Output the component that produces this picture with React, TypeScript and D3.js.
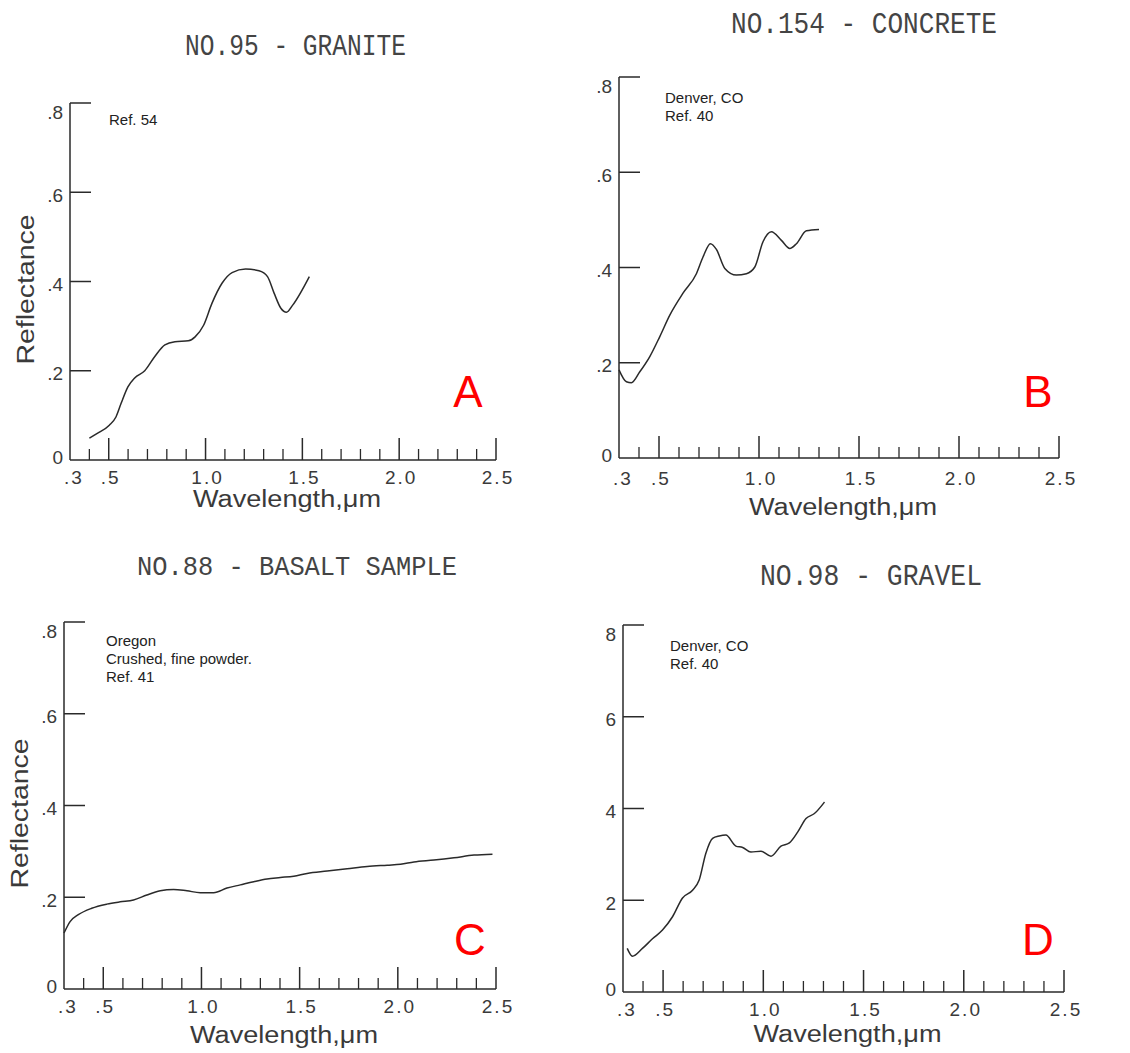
import React from 'react';
import * as d3 from 'd3';

// Spectral reflectance curves (wavelength in µm)
const graniteWave = [0.40, 0.443, 0.503, 0.538, 0.564, 0.599, 0.634, 0.686, 0.738, 0.79, 0.842, 0.911, 0.946, 0.99, 1.033, 1.085, 1.137, 1.207, 1.276, 1.32, 1.354, 1.389, 1.418, 1.45, 1.536];
const graniteRefl = [0.049, 0.06, 0.078, 0.097, 0.127, 0.164, 0.184, 0.2, 0.232, 0.258, 0.265, 0.267, 0.276, 0.302, 0.351, 0.396, 0.42, 0.428, 0.424, 0.411, 0.374, 0.34, 0.331, 0.347, 0.411];

const concreteWave = [0.30, 0.337, 0.362, 0.404, 0.454, 0.504, 0.554, 0.62, 0.687, 0.72, 0.757, 0.787, 0.829, 0.887, 0.937, 0.979, 1.02, 1.062, 1.112, 1.154, 1.187, 1.237, 1.30];
const concreteRefl = [0.185, 0.16, 0.158, 0.181, 0.213, 0.255, 0.3, 0.346, 0.387, 0.422, 0.45, 0.438, 0.398, 0.384, 0.387, 0.401, 0.454, 0.475, 0.457, 0.44, 0.45, 0.477, 0.48];

const basaltWave = [0.30, 0.331, 0.373, 0.441, 0.518, 0.586, 0.654, 0.722, 0.79, 0.858, 0.926, 0.994, 1.062, 1.13, 1.198, 1.266, 1.334, 1.402, 1.47, 1.538, 1.64, 1.742, 1.844, 1.946, 2.014, 2.082, 2.184, 2.286, 2.388, 2.482];
const basaltRefl = [0.122, 0.147, 0.162, 0.176, 0.185, 0.19, 0.194, 0.205, 0.214, 0.217, 0.214, 0.21, 0.21, 0.22, 0.227, 0.234, 0.24, 0.243, 0.246, 0.252, 0.257, 0.262, 0.267, 0.27, 0.272, 0.277, 0.281, 0.286, 0.292, 0.294];

const gravelWave = [0.321, 0.347, 0.397, 0.447, 0.497, 0.547, 0.597, 0.647, 0.68, 0.713, 0.747, 0.78, 0.813, 0.863, 0.897, 0.938, 0.988, 1.038, 1.088, 1.13, 1.172, 1.213, 1.255, 1.305];
const gravelRefl = [0.95, 0.78, 0.95, 1.16, 1.35, 1.64, 2.05, 2.22, 2.44, 3.02, 3.35, 3.4, 3.42, 3.18, 3.15, 3.05, 3.07, 2.96, 3.18, 3.25, 3.49, 3.78, 3.89, 4.14];

// Axis ticks
const xMajor = [0.5, 1.0, 1.5, 2.0, 2.5];
const xMinor = [0.4, 0.6, 0.7, 0.8, 0.9, 1.1, 1.2, 1.3, 1.4, 1.6, 1.7, 1.8, 1.9, 2.1, 2.2, 2.3, 2.4];
const xLabelValues = [0.3, 0.5, 1.0, 1.5, 2.0, 2.5];
const xLabels = ['.3', '.5', '1.0', '1.5', '2.0', '2.5'];
const yTicks = [0, 0.2, 0.4, 0.6, 0.8];
const yLabels = ['0', '.2', '.4', '.6', '.8'];
const yTicksGravel = [0, 2, 4, 6, 8];
const yLabelsGravel = ['0', '2', '4', '6', '8'];

const titles = ['NO.95 - GRANITE', 'NO.154 - CONCRETE', 'NO.88 - BASALT SAMPLE', 'NO.98 - GRAVEL'];
const notes = [['Ref. 54'], ['Denver, CO', 'Ref. 40'], ['Oregon', 'Crushed, fine powder.', 'Ref. 41'], ['Denver, CO', 'Ref. 40']];
const letters = ['A', 'B', 'C', 'D'];

// layout of each panel on the page
const layout = [
  { x0: 70, x1: 496, y0: 460, y1: 103, titleX: 185, titleY: 55, titleW: 221, titleSize: 30, noteX: 109, noteY: 125, letterX: 468, letterY: 407, ylab: true, xTitleY: 507, xLabY: 484 },
  { x0: 619, x1: 1059, y0: 458, y1: 77, titleX: 731, titleY: 33, titleW: 266, titleSize: 30, noteX: 665, noteY: 103, letterX: 1038, letterY: 407, ylab: false, xTitleY: 515, xLabY: 485 },
  { x0: 64, x1: 496, y0: 989, y1: 622, titleX: 137, titleY: 575, titleW: 320, titleSize: 28, noteX: 106, noteY: 646, letterX: 470, letterY: 955, ylab: true, xTitleY: 1043, xLabY: 1013 },
  { x0: 623, x1: 1064, y0: 992, y1: 625, titleX: 760, titleY: 585, titleW: 222, titleSize: 30, noteX: 670, noteY: 651, letterX: 1038, letterY: 955, ylab: false, xTitleY: 1042, xLabY: 1016 },
];

const series = [
  { wave: graniteWave, refl: graniteRefl, yMax: 0.8, ticks: yTicks, labels: yLabels },
  { wave: concreteWave, refl: concreteRefl, yMax: 0.8, ticks: yTicks, labels: yLabels },
  { wave: basaltWave, refl: basaltRefl, yMax: 0.8, ticks: yTicks, labels: yLabels },
  { wave: gravelWave, refl: gravelRefl, yMax: 8, ticks: yTicksGravel, labels: yLabelsGravel },
];

const ink = '#2a2a2a';
const textInk = '#3a3a3a';
const plotFont = '"Liberation Sans", Arial, sans-serif';

function Panel({ i }: { i: number }) {
  const L = layout[i];
  const S = series[i];
  const x = d3.scaleLinear().domain([0.3, 2.5]).range([L.x0, L.x1]);
  const y = d3.scaleLinear().domain([0, S.yMax]).range([L.y0, L.y1]);
  const pts = S.wave.map((w, k) => [w, S.refl[k]] as [number, number]);
  const line = d3
    .line<[number, number]>()
    .x((d) => x(d[0]))
    .y((d) => y(d[1]))
    .curve(d3.curveMonotoneX);
  const xMid = (L.x0 + L.x1) / 2;
  const yMid = (L.y0 + L.y1) / 2;

  return (
    <g>
      <text
        x={L.titleX}
        y={L.titleY}
        textLength={L.titleW}
        lengthAdjust="spacingAndGlyphs"
        fontFamily='"Liberation Mono", "DejaVu Sans Mono", monospace'
        fontSize={L.titleSize}
        fill="#444"
      >
        {titles[i]}
      </text>

      {/* axes */}
      <line x1={x(0.3)} x2={x(0.3)} y1={y(0)} y2={y(S.yMax)} stroke={ink} strokeWidth={1.5} />
      <line x1={x(0.3)} x2={x(2.5)} y1={y(0)} y2={y(0)} stroke={ink} strokeWidth={1.5} />
      {S.ticks.slice(1).map((t) => (
        <line key={'yt' + t} x1={x(0.3)} x2={x(0.3) + 21} y1={y(t)} y2={y(t)} stroke={ink} strokeWidth={1.5} />
      ))}
      {xMajor.map((t) => (
        <line key={'xM' + t} x1={x(t)} x2={x(t)} y1={y(0)} y2={y(0) - 22} stroke={ink} strokeWidth={1.5} />
      ))}
      {xMinor.map((t) => (
        <line key={'xm' + t} x1={x(t)} x2={x(t)} y1={y(0)} y2={y(0) - 11} stroke={ink} strokeWidth={1.3} />
      ))}

      {/* tick labels */}
      {S.ticks.map((t, k) => (
        <text
          key={'yl' + t}
          x={x(0.3) - 7}
          y={y(t) + (k === S.ticks.length - 1 ? 9 : k === 0 ? -3 : 3)}
          dy="0.35em"
          textAnchor="end"
          fontFamily={plotFont}
          fontSize={19}
          fill={textInk}
        >
          {S.labels[k]}
        </text>
      ))}
      {xLabelValues.map((t, k) => (
        <text
          key={'xl' + t}
          x={x(t) + (k === 0 ? 4 : 2)}
          y={L.xLabY}
          textAnchor="middle"
          fontFamily={plotFont}
          fontSize={19}
          letterSpacing={2}
          fill={textInk}
        >
          {xLabels[k]}
        </text>
      ))}
      <text
        x={xMid + 4}
        y={L.xTitleY}
        textAnchor="middle"
        textLength={188}
        lengthAdjust="spacingAndGlyphs"
        fontFamily={plotFont}
        fontSize={23}
        fill={textInk}
      >
        Wavelength,μm
      </text>
      {L.ylab && (
        <text
          transform={`translate(${L.x0 - 36},${yMid + 8}) rotate(-90)`}
          textAnchor="middle"
          textLength={150}
          lengthAdjust="spacingAndGlyphs"
          fontFamily={plotFont}
          fontSize={23}
          fill={textInk}
        >
          Reflectance
        </text>
      )}

      {/* notes */}
      {notes[i].map((n, k) => (
        <text key={'n' + k} x={L.noteX} y={L.noteY + k * 18} fontFamily={plotFont} fontSize={15} fill="#222">
          {n}
        </text>
      ))}

      <path d={line(pts) ?? ''} fill="none" stroke={ink} strokeWidth={1.5} />

      <text x={L.letterX} y={L.letterY} textAnchor="middle" fontFamily={plotFont} fontSize={44} fill="#ff0000">
        {letters[i]}
      </text>
    </g>
  );
}

export default function App() {
  return (
    <div style={{ position: 'absolute', left: 0, top: 0 }}>
      <svg width={1130} height={1053} style={{ display: 'block', background: '#fff' }}>
        {[0, 1, 2, 3].map((i) => (
          <Panel key={i} i={i} />
        ))}
      </svg>
    </div>
  );
}
